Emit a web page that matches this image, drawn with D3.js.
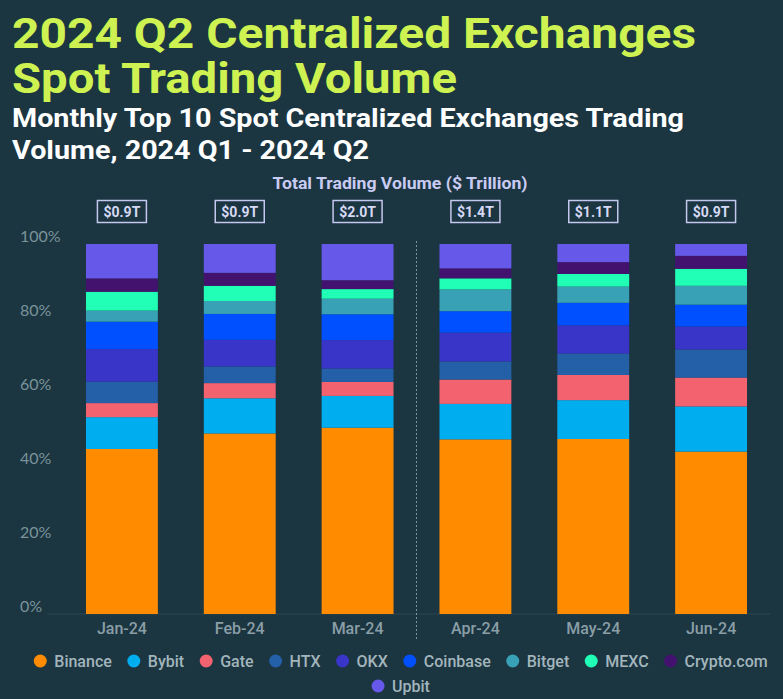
<!DOCTYPE html>
<html>
<head>
<meta charset="utf-8">
<script src="https://cdn.jsdelivr.net/npm/d3@7"></script>
<style>
  html, body { margin: 0; padding: 0; background: #1b3541; }
  svg { display: block; }
</style>
</head>
<body>
<svg id="chart" width="783" height="699"></svg>
<script>
// ---- data ----
const months = ["Jan-24", "Feb-24", "Mar-24", "Apr-24", "May-24", "Jun-24"];
const totals = ["$0.9T", "$0.9T", "$2.0T", "$1.4T", "$1.1T", "$0.9T"];
const exchanges = ["Binance", "Bybit", "Gate", "HTX", "OKX", "Coinbase", "Bitget", "MEXC", "Crypto.com", "Upbit"];
const binance   = [44.6, 48.8, 50.4, 47.3, 47.3, 43.9];
const bybit     = [8.6, 9.5, 8.6, 9.6, 10.5, 12.2];
const gate      = [3.8, 4.1, 3.8, 6.6, 6.8, 7.8];
const htx       = [5.8, 4.5, 3.6, 4.9, 5.8, 7.6];
const okx       = [8.8, 7.2, 7.7, 7.8, 7.6, 6.2];
const coinbase  = [7.4, 7.0, 7.0, 5.8, 6.1, 5.9];
const bitget    = [3.0, 3.5, 4.2, 5.9, 4.4, 5.1];
const mexc      = [5.1, 4.1, 2.6, 3.0, 3.4, 4.6];
const cryptocom = [3.6, 3.5, 2.4, 2.7, 3.2, 3.5];
const upbit     = [9.3, 7.8, 9.8, 6.6, 4.9, 3.2];
const yTicks = [0, 0.2, 0.4, 0.6, 0.8, 1.0];

const seriesValues = [binance, bybit, gate, htx, okx, coinbase, bitget, mexc, cryptocom, upbit];
const colors = ["#ff8c00", "#00aeef", "#f2636f", "#2360a8", "#3a35c9", "#0050ff", "#38a1b5", "#20ffb5", "#43126f", "#6658e8"];

const table = months.map((m, i) => {
  const row = { month: m };
  exchanges.forEach((e, j) => row[e] = seriesValues[j][i]);
  return row;
});

const svg = d3.select("#chart");
const W = 783, H = 699;
svg.append("rect").attr("width", W).attr("height", H).attr("fill", "#1b3541");

function fit(sel, width) {
  const len = sel.node().getComputedTextLength();
  if (Math.abs(len - width) > 2) sel.attr("textLength", width).attr("lengthAdjust", "spacingAndGlyphs");
  return sel;
}

// ---- titles ----
const tFont = "Roboto, 'Liberation Sans', sans-serif";
fit(svg.append("text").attr("x", 12).attr("y", 48).attr("fill", "#cdf251")
  .attr("font-family", tFont).attr("font-weight", 700).attr("font-size", 42)
  .text("2024 Q2 Centralized Exchanges"), 684);
fit(svg.append("text").attr("x", 12).attr("y", 93).attr("fill", "#cdf251")
  .attr("font-family", tFont).attr("font-weight", 700).attr("font-size", 42)
  .text("Spot Trading Volume"), 445);
fit(svg.append("text").attr("x", 12).attr("y", 127).attr("fill", "#ffffff")
  .attr("font-family", tFont).attr("font-weight", 700).attr("font-size", 26)
  .text("Monthly Top 10 Spot Centralized Exchanges Trading"), 672);
fit(svg.append("text").attr("x", 12).attr("y", 159).attr("fill", "#ffffff")
  .attr("font-family", tFont).attr("font-weight", 700).attr("font-size", 26)
  .text("Volume, 2024 Q1 - 2024 Q2"), 357);

// ---- scales ----
const x = d3.scaleBand().domain(months).range([63, 770]).paddingInner(0.39).paddingOuter(0.195);
const y = d3.scaleLinear().domain([0, 1]).range([614, 244]);

// baseline
svg.append("line").attr("x1", 47).attr("x2", 770).attr("y1", y(0)).attr("y2", y(0))
  .attr("stroke", "#2c4752").attr("stroke-width", 1);

// ---- stacked bars ----
const stack = d3.stack().keys(exchanges).offset(d3.stackOffsetExpand);
const stacked = stack(table);
svg.append("g").selectAll("g").data(stacked).join("g")
  .attr("fill", (d, i) => colors[i])
  .selectAll("rect").data(d => d).join("rect")
  .attr("x", d => x(d.data.month))
  .attr("width", x.bandwidth())
  .attr("y", d => y(d[1]))
  .attr("height", d => y(d[0]) - y(d[1]));

// ---- dashed divider ----
const divX = (x("Mar-24") + x.bandwidth() + x("Apr-24")) / 2;
svg.append("line").attr("x1", divX).attr("x2", divX).attr("y1", 241).attr("y2", 640)
  .attr("stroke", "#7d939b").attr("stroke-width", 1).attr("stroke-dasharray", "2,2");

// ---- y axis ----
const yAxis = svg.append("g").attr("transform", "translate(20,-8)")
  .call(d3.axisLeft(y).tickValues(yTicks).tickFormat(d => Math.round(d * 100) + "%").tickSize(0).tickPadding(0));
yAxis.select(".domain").remove();
yAxis.selectAll("text").attr("x", 0).attr("text-anchor", "start")
  .attr("fill", "#7a939a").attr("font-family", "Lato, 'Open Sans', sans-serif").attr("font-size", 16);

// ---- x axis ----
const xAxis = svg.append("g").attr("transform", `translate(0,${y(0)})`)
  .call(d3.axisBottom(x).tickSize(0).tickPadding(9));
xAxis.select(".domain").remove();
xAxis.selectAll("text").attr("fill", "#8a9ea6").attr("font-family", tFont)
  .attr("font-weight", 500).attr("font-size", 16);

// ---- totals ----
fit(svg.append("text").attr("x", 400).attr("y", 189).attr("text-anchor", "middle")
  .attr("fill", "#c8cbf2").attr("font-family", tFont).attr("font-weight", 700).attr("font-size", 16.5)
  .text("Total Trading Volume ($ Trillion)"), 255);
const tg = svg.append("g").selectAll("g").data(months).join("g")
  .attr("transform", d => `translate(${x(d) + x.bandwidth() / 2},211.5)`);
tg.append("rect").attr("x", -24.5).attr("y", -11).attr("width", 49).attr("height", 22)
  .attr("fill", "none").attr("stroke", "#c5c8ee").attr("stroke-width", 1.5);
tg.append("text").attr("text-anchor", "middle").attr("dy", "0.36em")
  .attr("fill", "#d6d9f5").attr("font-family", tFont).attr("font-weight", 700).attr("font-size", 14)
  .text((d, i) => totals[i]);

// ---- legend ----
const lFont = 16;
const leg = svg.append("g");
const rows = [exchanges.slice(0, 9), exchanges.slice(9)];
const rowY = [661, 686];
rows.forEach((names, ri) => {
  const g = leg.append("g");
  let cx = 0;
  names.forEach(name => {
    const idx = exchanges.indexOf(name);
    const item = g.append("g").attr("transform", `translate(${cx},0)`);
    item.append("circle").attr("cx", 6).attr("cy", 0).attr("r", 6.5).attr("fill", colors[idx]);
    const t = item.append("text").attr("x", 20).attr("dy", "0.35em").attr("fill", "#a3b5bc")
      .attr("font-family", tFont).attr("font-weight", 500).attr("font-size", lFont).text(name);
    const w = t.node().getComputedTextLength();
    cx += 20 + w + 16;
  });
  const total = cx - 16;
  g.attr("transform", `translate(${401 - total / 2},${rowY[ri]})`);
});
</script>
</body>
</html>
